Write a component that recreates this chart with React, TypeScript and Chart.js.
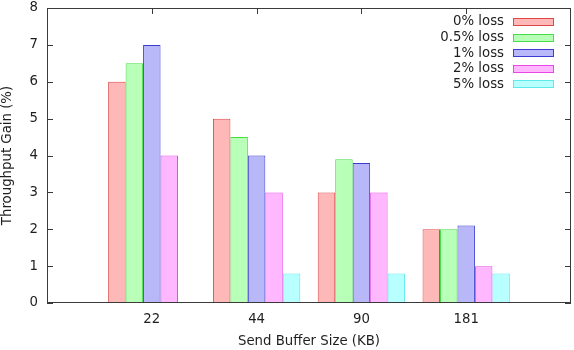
import React, { useEffect, useRef } from "react";
import { Chart, registerables } from "chart.js";

Chart.register(...registerables);

// Send buffer sizes (KB); empty slots pad the axis by one unit on each side
const bufferSizes = ["", "22", "44", "90", "181", ""];

const loss0 = [null, 6, 5, 3, 2, null];
const loss05 = [null, 6.5, 4.5, 3.9, 2, null];
const loss1 = [null, 7, 4, 3.8, 2.1, null];
const loss2 = [null, 4, 3, 3, 1, null];
const loss5 = [null, null, 0.8, 0.8, 0.8, null];

const seriesLabels = ["0% loss", "0.5% loss", "1% loss", "2% loss", "5% loss"];
const fills = ["#ffb8b8", "#b8ffb8", "#b8b8f8", "#ffb8ff", "#b8ffff"];
const strokes = ["#e04848", "#48dc48", "#3c3cd2", "#e848e8", "#5eeaea"];

const yTicks = [0, 1, 2, 3, 4, 5, 6, 7, 8];

const FONT = "DejaVu Sans";
const FONT_SIZE = 13.3;
const TEXT = "#1e1e1e";
const FRAME = "#3a3a3a";

// Inward tick marks on all four sides, drawn under the bars
const frameTicks = {
  id: "frameTicks",
  beforeDatasetsDraw(chart: any) {
    const { ctx, chartArea: a, scales } = chart;
    const len = 6;
    ctx.save();
    ctx.strokeStyle = FRAME;
    ctx.lineWidth = 1;
    ctx.beginPath();
    yTicks.forEach((v) => {
      const y = Math.round(scales.y.getPixelForValue(v)) + 0.5;
      ctx.moveTo(a.left, y);
      ctx.lineTo(a.left + len, y);
      ctx.moveTo(a.right, y);
      ctx.lineTo(a.right - len, y);
    });
    bufferSizes.forEach((lab, i) => {
      if (!lab) return;
      const x = Math.round(scales.x.getPixelForValue(i)) + 0.5;
      ctx.moveTo(x, a.top);
      ctx.lineTo(x, a.top + len);
      ctx.moveTo(x, a.bottom);
      ctx.lineTo(x, a.bottom - len);
    });
    ctx.stroke();
    ctx.restore();
  },
  afterDatasetsDraw(chart: any) {
    const { ctx, chartArea: a } = chart;
    ctx.save();
    ctx.strokeStyle = FRAME;
    ctx.lineWidth = 1;
    ctx.strokeRect(
      Math.round(a.left) + 0.5,
      Math.round(a.top) + 0.5,
      Math.round(a.right - a.left) - 1,
      Math.round(a.bottom - a.top) - 1
    );
    ctx.restore();
  },
};

// Key in the top-right corner: label on the left, swatch on the right
const keyBox = {
  id: "keyBox",
  afterDraw(chart: any) {
    const { ctx, chartArea: a } = chart;
    const textRight = a.right - 67;
    const swLeft = a.right - 58;
    const swW = 41;
    const swH = 8;
    ctx.save();
    ctx.font = `${FONT_SIZE}px "${FONT}"`;
    ctx.textAlign = "right";
    ctx.textBaseline = "middle";
    chart.data.datasets.forEach((ds: any, i: number) => {
      const cy = a.top + 14 + i * 15.55;
      ctx.fillStyle = TEXT;
      ctx.fillText(ds.label, textRight, cy);
      ctx.fillStyle = ds.backgroundColor;
      ctx.fillRect(swLeft, Math.round(cy - swH / 2), swW, swH);
      ctx.strokeStyle = ds.borderColor;
      ctx.lineWidth = 1;
      ctx.strokeRect(swLeft + 0.5, Math.round(cy - swH / 2) + 0.5, swW - 1, swH - 1);
    });
    ctx.restore();
  },
};

export default function App() {
  const ref = useRef<HTMLCanvasElement>(null);

  useEffect(() => {
    document.body.style.margin = "0";
    const canvas = ref.current;
    if (!canvas) return;
    const series = [loss0, loss05, loss1, loss2, loss5];
    const chart = new Chart(canvas, {
      type: "bar",
      data: {
        labels: bufferSizes,
        datasets: series.map((d, i) => ({
          label: seriesLabels[i],
          data: d,
          backgroundColor: fills[i],
          borderColor: strokes[i],
          borderWidth: 1,
          borderSkipped: false,
          categoryPercentage: 5 / 6,
          barPercentage: 1,
        })),
      },
      options: {
        responsive: false,
        animation: false,
        devicePixelRatio: 1,
        layout: { padding: { top: 0, right: 3, left: 0, bottom: 0 } },
        plugins: {
          legend: { display: false },
          tooltip: { enabled: false },
        },
        scales: {
          x: {
            type: "category",
            offset: false,
            grid: { display: false, drawTicks: false },
            border: { display: false },
            ticks: {
              autoSkip: false,
              maxRotation: 0,
              padding: 9,
              color: TEXT,
              font: { family: FONT, size: FONT_SIZE },
            },
            title: {
              display: true,
              text: "Send Buffer Size (KB)",
              color: TEXT,
              font: { family: FONT, size: FONT_SIZE },
              padding: { top: 0, bottom: 0 },
            },
            afterFit(scale: any) {
              scale.height = 47;
              scale.paddingLeft = 0;
              scale.paddingRight = 0;
            },
          },
          y: {
            min: 0,
            max: 8,
            grid: { display: false, drawTicks: false },
            border: { display: false },
            ticks: {
              stepSize: 1,
              padding: 9,
              color: TEXT,
              font: { family: FONT, size: FONT_SIZE },
            },
            title: {
              display: true,
              text: "Throughput Gain (%)",
              color: TEXT,
              font: { family: FONT, size: FONT_SIZE },
              padding: { top: 0, bottom: 0 },
            },
            afterFit(scale: any) {
              scale.width = 47;
              scale.paddingTop = 8;
              scale.paddingBottom = 0;
            },
          },
        },
      },
      plugins: [frameTicks, keyBox],
    } as any);
    return () => chart.destroy();
  }, []);

  return <canvas ref={ref} width={574} height={350} style={{ display: "block" }} />;
}
